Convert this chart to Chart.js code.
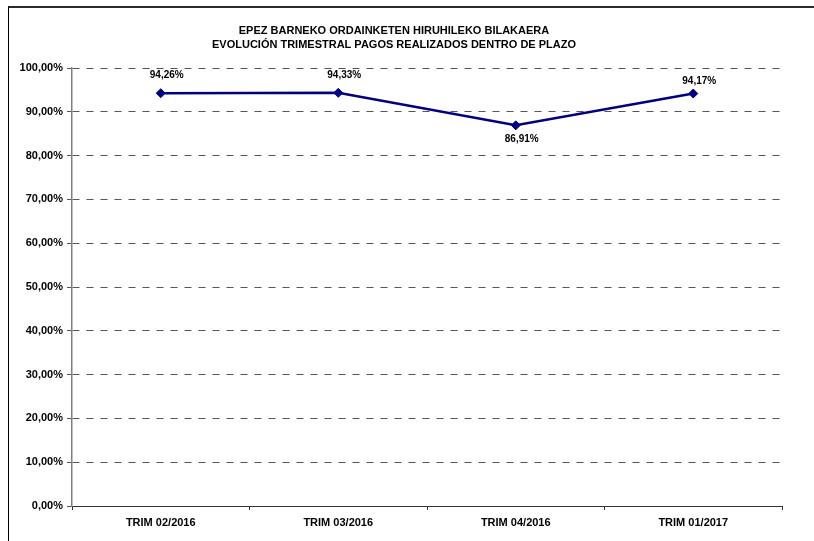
<!DOCTYPE html>
<html>
<head>
<meta charset="utf-8">
<script src="https://cdn.jsdelivr.net/npm/chart.js@4/dist/chart.umd.min.js"></script>
<style>
  html, body { margin: 0; padding: 0; background: #fff; overflow: hidden; }
  #wrap { position: relative; width: 814px; height: 541px; }
  #frame { position: absolute; left: 8px; top: 6px; width: 900px; height: 900px;
           border-top: 2px solid #2b2b2b; border-left: 1.5px solid #000; pointer-events: none; box-sizing: border-box; }
  canvas { position: absolute; left: 0; top: 0; }
</style>
</head>
<body>
<div id="wrap">
  <canvas id="c" width="814" height="541"></canvas>
  <div id="frame"></div>
</div>
<script>
const titleLines = [
  "EPEZ BARNEKO ORDAINKETEN HIRUHILEKO BILAKAERA",
  "EVOLUCIÓN TRIMESTRAL PAGOS REALIZADOS DENTRO DE PLAZO"
];
const categories = ["TRIM 02/2016", "TRIM 03/2016", "TRIM 04/2016", "TRIM 01/2017"];
const values = [94.26, 94.33, 86.91, 94.17];
const valueLabels = ["94,26%", "94,33%", "86,91%", "94,17%"];
const yTickLabels = ["0,00%", "10,00%", "20,00%", "30,00%", "40,00%", "50,00%",
                     "60,00%", "70,00%", "80,00%", "90,00%", "100,00%"];

const FONT = '"Liberation Sans", Arial, Helvetica, sans-serif';

const titlePlugin = {
  id: 'fixedTitle',
  afterDraw(chart) {
    const ctx = chart.ctx;
    ctx.save();
    ctx.fillStyle = '#000';
    ctx.font = 'bold 11px ' + FONT;
    ctx.textAlign = 'center';
    ctx.textBaseline = 'middle';
    ctx.fillText(titleLines[0], 394, 31);
    ctx.fillText(titleLines[1], 394, 44.5);
    ctx.restore();
  }
};

const labelPlugin = {
  id: 'valueLabels',
  afterDatasetsDraw(chart, args, opts) {
    const ctx = chart.ctx;
    const meta = chart.getDatasetMeta(0);
    ctx.save();
    ctx.fillStyle = '#000';
    ctx.font = 'bold 10px ' + FONT;
    ctx.textAlign = 'center';
    ctx.textBaseline = 'middle';
    meta.data.forEach((pt, i) => {
      const dy = opts.dy[i];
      ctx.fillText(valueLabels[i], pt.x + opts.dx, pt.y + dy);
    });
    ctx.restore();
  }
};

new Chart(document.getElementById('c'), {
  type: 'line',
  data: {
    labels: categories,
    datasets: [{
      data: values,
      borderColor: '#000080',
      backgroundColor: '#000080',
      borderWidth: 2.5,
      tension: 0,
      pointStyle: 'rectRot',
      pointRadius: 4.5,
      pointBorderWidth: 1,
      pointBackgroundColor: '#000080',
      pointBorderColor: '#000080',
      fill: false
    }]
  },
  options: {
    responsive: false,
    animation: false,
    devicePixelRatio: 1,
    layout: { padding: { top: 68, right: 32, bottom: 0, left: 0 } },
    plugins: {
      legend: { display: false },
      title: { display: false },
      tooltip: { enabled: false },
      valueLabels: { dx: 6, dy: [-18, -18, 14, -12] }
    },
    scales: {
      x: {
        type: 'category',
        offset: true,
        afterFit(scale) { scale.height = 35; },
        grid: { display: true, drawOnChartArea: false, drawTicks: true, tickLength: 4, color: '#333', offset: true },
        border: { display: true, color: '#333', width: 1 },
        ticks: { color: '#000', font: { family: FONT, size: 11, weight: 'bold' }, padding: 6, maxRotation: 0 }
      },
      y: {
        min: 0, max: 100,
        afterFit(scale) { scale.width = 72; },
        ticks: {
          stepSize: 10,
          color: '#000',
          font: { family: FONT, size: 11, weight: 'bold' },
          padding: 4,
          callback: (v) => yTickLabels[Math.round(v / 10)]
        },
        grid: { color: '#555', lineWidth: 1, tickLength: 5, drawTicks: true },
        border: { display: true, color: '#808080', width: 1.5, dash: [7, 7] }
      }
    }
  },
  plugins: [titlePlugin, labelPlugin]
});
</script>
</body>
</html>
